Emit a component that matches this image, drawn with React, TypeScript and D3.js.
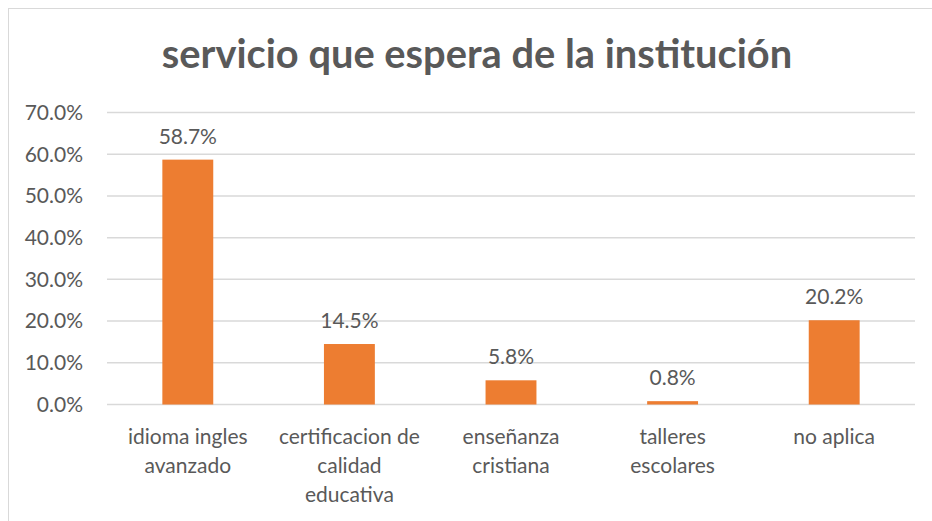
import React from "react";
import * as d3 from "d3";

const categories = [
  ["idioma ingles", "avanzado"],
  ["certificacion de", "calidad", "educativa"],
  ["enseñanza", "cristiana"],
  ["talleres", "escolares"],
  ["no aplica"],
];
const values = [0.587, 0.145, 0.058, 0.008, 0.202];
const yTicks = [0, 0.1, 0.2, 0.3, 0.4, 0.5, 0.6, 0.7];

const W = 932;
const H = 521;
const font = "Lato, 'Open Sans', sans-serif";
const grey = "#595959";
const fs = 21;

const App: React.FC = () => {
  const x = d3
    .scaleBand<number>()
    .domain(values.map((_, i) => i))
    .range([107, 915])
    .paddingInner(0.685)
    .paddingOuter(0.3425);
  const y = d3.scaleLinear().domain([0, 0.7]).range([404.5, 112.5]);
  const fmt = d3.format(".1%");

  return (
    <svg
      width={W}
      height={H}
      style={{ position: "fixed", left: 0, top: 0, background: "#fff" }}
    >
      <rect x={8.5} y={8.5} width={W + 10} height={H + 10} fill="#fff" stroke="#d9d9d9" />
      <text
        x={477}
        y={68}
        textAnchor="middle"
        fontFamily={font}
        fontWeight="bold"
        fontSize={39.8}
        fill={grey}
      >
        servicio que espera de la institución
      </text>
      {yTicks.map((t) => (
        <g key={t}>
          <line x1={107} x2={915} y1={y(t)} y2={y(t)} stroke="#d9d9d9" strokeWidth={1.5} />
          <text
            x={83}
            y={y(t)}
            dy="0.35em"
            textAnchor="end"
            fontFamily={font}
            fontSize={fs}
            fill={grey}
          >
            {fmt(t)}
          </text>
        </g>
      ))}
      {values.map((v, i) => (
        <g key={i}>
          <rect
            x={x(i)}
            y={y(v)}
            width={x.bandwidth()}
            height={y(0) - y(v)}
            fill="#ed7d31"
          />
          <text
            x={(x(i) as number) + x.bandwidth() / 2}
            y={y(v) - 16}
            textAnchor="middle"
            fontFamily={font}
            fontSize={fs}
            fill={grey}
          >
            {fmt(v)}
          </text>
          <text
            textAnchor="middle"
            fontFamily={font}
            fontSize={fs}
            fill={grey}
          >
            {categories[i].map((line, j) => (
              <tspan key={j} x={(x(i) as number) + x.bandwidth() / 2} y={444 + j * 29}>
                {line}
              </tspan>
            ))}
          </text>
        </g>
      ))}
    </svg>
  );
};

export default App;
